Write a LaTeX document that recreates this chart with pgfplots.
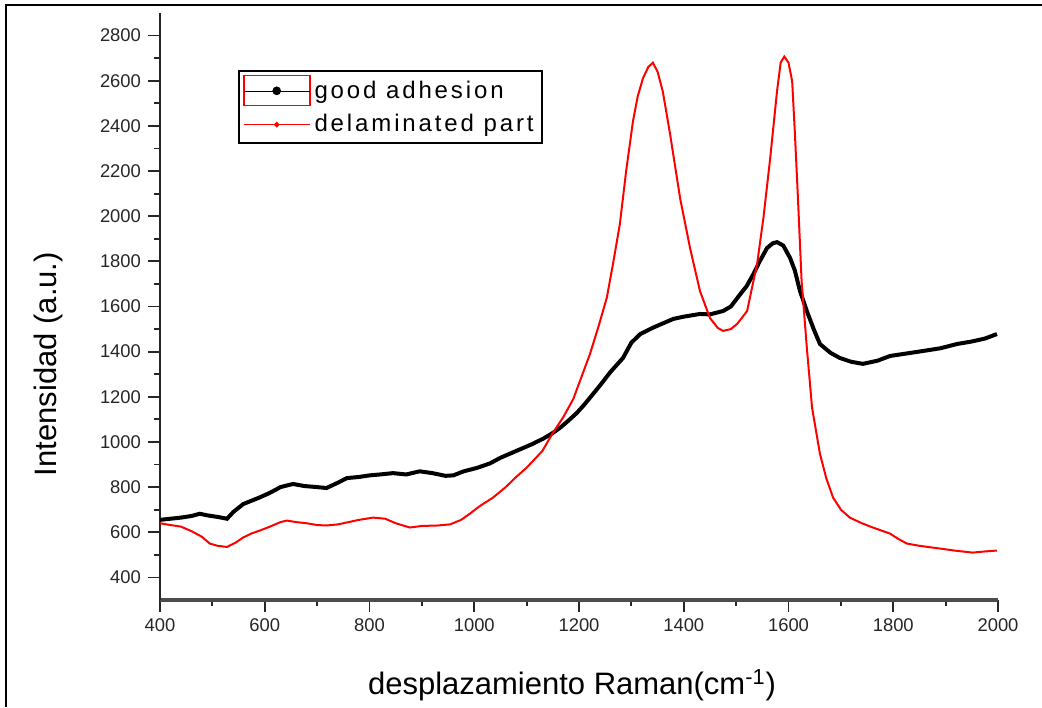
\documentclass[border=0pt]{standalone}
\usepackage{pgfplots}
\pgfplotsset{compat=1.18}
\usepackage{fontspec}
\setmainfont{Liberation Sans}
\begin{document}
\begin{tikzpicture}
\useasboundingbox (0,0) rectangle (521pt,353.5pt);
\draw[line width=1.3pt] (3pt,0pt) -- (3pt,351pt) -- (521pt,351pt);
\begin{axis}[
  at={(80pt,53.5pt)}, anchor=south west,
  scale only axis, width=419pt, height=293.5pt,
  xmin=400, xmax=2000, ymin=300, ymax=2900,
  axis lines*=left,
  axis line style={-},
  x axis line style={line width=1.8pt, draw=black!70},
  y axis line style={line width=0.9pt, draw=black!85},
  xtick={400,600,...,2000}, ytick={400,600,...,2800},
  minor x tick num=1, minor y tick num=1,
  tick align=outside,
  major tick length=6pt, minor tick length=3pt,
  every tick/.style={line width=0.9pt, black!85},
  tick label style={font=\fontsize{9.2}{10}\selectfont, text=black!85},
  /pgf/number format/assume math mode=true,
  /pgf/number format/1000 sep={},
  xlabel={desplazamiento Raman(cm\textsuperscript{-1})},
  ylabel={Intensidad (a.u.)},
  label style={font=\fontsize{15.5}{17}\selectfont},
  xlabel style={at={(axis description cs:0.4917,-0.145)}, anchor=center},
  ylabel style={at={(axis description cs:-0.1325,0.402)}, anchor=center},
  legend style={at={(axis description cs:0.0931,0.903)}, anchor=north west,
    draw=black, line width=0.9pt, inner xsep=2pt, inner ysep=2pt,
    font=\fontsize{12}{14}\selectfont\addfontfeature{LetterSpace=12},
    row sep=2pt, cells={anchor=west}},
  legend cell align=left,
]
\addplot[black, line width=2pt,
  legend image code/.code={
    \draw[red, line width=0.8pt] (0pt,-7pt) rectangle (33pt,8pt);
    \draw[black, line width=0.8pt] (0pt,0pt) -- (33pt,0pt);
    \fill[black] (16.5pt,0.4pt) circle (1.1pt);
  }] coordinates {
(400,655) (420,660) (440,665) (460,672) (476,682) (490,675) (510,668) (528,660)
(540,690) (559,725) (575,740) (591,755) (610,775) (630,800) (654,814) (675,805)
(700,800) (718,796) (740,820) (757,840) (780,845) (800,852) (820,856) (845,862)
(870,856) (896,870) (920,862) (945,850) (960,852) (980,870) (1005,885) (1030,905)
(1050,930) (1068,948) (1090,970) (1110,990) (1132,1015) (1150,1040) (1164,1063)
(1180,1095) (1196,1129) (1210,1165) (1221,1196) (1240,1250) (1260,1310) (1284,1372)
(1300,1440) (1317,1478) (1340,1505) (1360,1525) (1380,1545) (1400,1555) (1431,1567)
(1450,1565) (1475,1580) (1490,1600) (1508,1655) (1520,1690) (1533,1744) (1545,1800)
(1559,1859) (1570,1880) (1578,1885) (1590,1870) (1603,1815) (1612,1760) (1622,1668)
(1635,1580) (1648,1500) (1660,1434) (1680,1395) (1698,1372) (1720,1355) (1742,1346)
(1770,1360) (1794,1381) (1820,1390) (1857,1403) (1890,1415) (1922,1434) (1950,1445)
(1975,1458) (1998,1478)
};
\addlegendentry{good adhesion}
\addplot[red, line width=1pt,
  legend image code/.code={
    \draw[red, line width=0.8pt] (0pt,0pt) -- (33pt,0pt);
    \fill[red] (16.5pt,0pt) circle (0.8pt);
  }] coordinates {
(400,640) (420,632) (440,625) (460,605) (480,580) (495,550) (510,540) (528,535)
(545,555) (559,577) (575,595) (591,608) (610,625) (630,645) (642,652) (660,645)
(680,640) (700,632) (718,630) (740,635) (760,645) (780,655) (807,665) (830,660)
(850,640) (877,621) (900,628) (930,630) (954,635) (975,655) (992,683) (1010,715)
(1036,754) (1060,800) (1080,845) (1100,886) (1130,960) (1150,1040) (1170,1110)
(1189,1190) (1205,1290) (1221,1390) (1237,1510) (1253,1638) (1265,1790) (1278,1965)
(1290,2200) (1303,2420) (1312,2530) (1322,2610) (1332,2660) (1341,2680) (1350,2640)
(1360,2552) (1374,2362) (1393,2080) (1412,1859) (1431,1668) (1450,1549) (1465,1505)
(1475,1492) (1490,1500) (1502,1523) (1521,1580) (1530,1680) (1540,1788) (1552,1991)
(1565,2256) (1578,2552) (1585,2680) (1592,2707) (1600,2680) (1607,2597) (1612,2376)
(1618,2080) (1625,1713) (1635,1417) (1645,1151) (1660,948) (1672,840) (1685,754)
(1700,700) (1717,665) (1740,640) (1761,621) (1794,594) (1810,570) (1826,550)
(1850,540) (1889,528) (1920,518) (1952,510) (1975,515) (1998,519)
};
\addlegendentry{delaminated part}
\end{axis}
\end{tikzpicture}
\end{document}
